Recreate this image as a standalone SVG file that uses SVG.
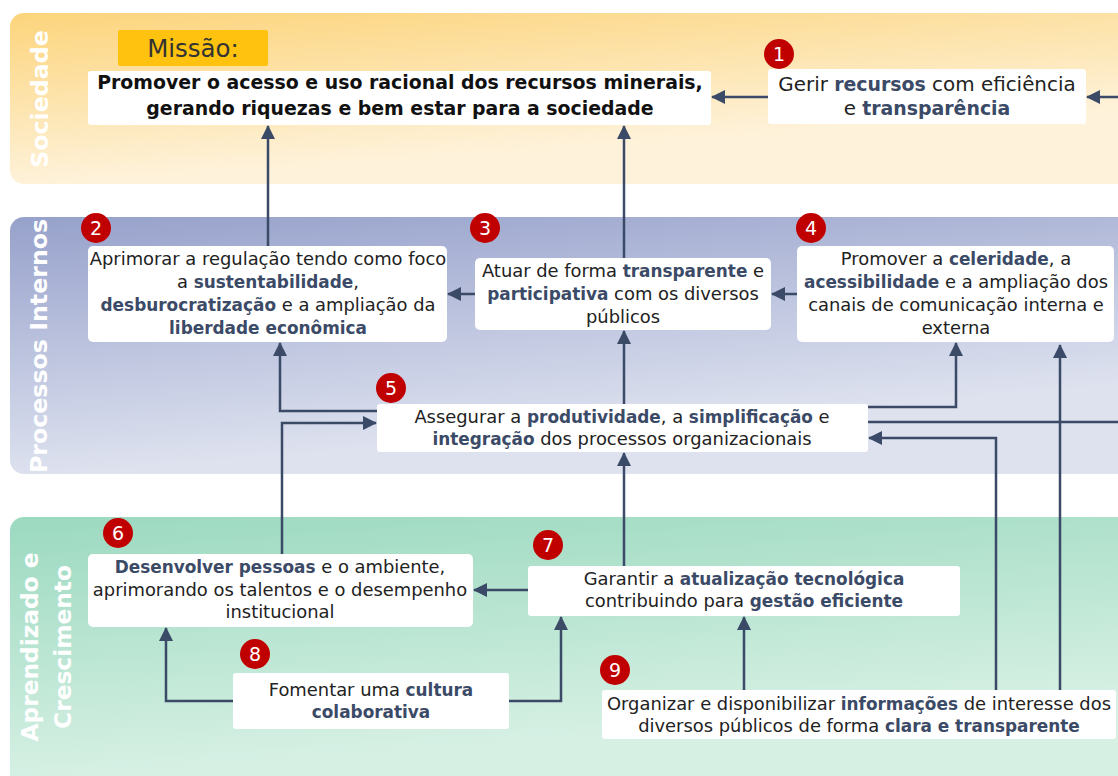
<svg xmlns="http://www.w3.org/2000/svg" width="1118" height="776" viewBox="0 0 1118 776">
<defs>
<linearGradient id="gSoc" gradientUnits="userSpaceOnUse" x1="0" y1="13" x2="12" y2="186">
<stop offset="0" stop-color="#FCD47B"/><stop offset="1" stop-color="#FEF2DA"/>
</linearGradient>
<linearGradient id="gProc" gradientUnits="userSpaceOnUse" x1="0" y1="217" x2="22" y2="478">
<stop offset="0" stop-color="#96A1CB"/><stop offset="1" stop-color="#DEE2EF"/>
</linearGradient>
<linearGradient id="gApr" gradientUnits="userSpaceOnUse" x1="0" y1="517" x2="20" y2="780">
<stop offset="0" stop-color="#9BD9C0"/><stop offset="1" stop-color="#D6F0E4"/>
</linearGradient>
<marker id="ah" markerUnits="userSpaceOnUse" markerWidth="14" markerHeight="14" viewBox="0 0 14 14" refX="13" refY="7" orient="auto">
<path d="M0,0 L14,7 L0,14 z" fill="#3B4A66"/>
</marker>
<style>
text{font-family:"DejaVu Sans","Open Sans","Noto Sans",sans-serif;}
.band{font-size:23.7px;font-weight:700;fill:#FFFFFF;text-anchor:middle;}
.t{font-size:17.9px;fill:#222222;text-anchor:middle;}
.k{font-weight:700;fill:#3B4A66;font-size:16.9px;}
.t1{font-size:19.9px;}
.t1 .k{font-size:18.9px;}
.m{font-size:18.9px;font-weight:700;fill:#111111;text-anchor:middle;}
.box{fill:#FFFFFF;}
.bd{fill:#C00000;}
.bn{font-size:19px;fill:#FFFFFF;text-anchor:middle;}
.c{fill:none;stroke:#3B4A66;stroke-width:2.5;}
.a{marker-end:url(#ah);}
</style>
</defs>

<g id="bands">
<rect x="10" y="13" width="1130" height="171" rx="14" fill="url(#gSoc)"/>
<rect x="10" y="217" width="1130" height="257" rx="14" fill="url(#gProc)"/>
<rect x="10" y="517" width="1130" height="290" rx="14" fill="url(#gApr)"/>
<text class="band" transform="translate(48,99) rotate(-90)">Sociedade</text>
<text class="band" transform="translate(47,346) rotate(-90)">Processos Internos</text>
<text class="band" style="font-size:23.3px" transform="translate(38,647) rotate(-90)"><tspan x="0" y="0">Aprendizado e</tspan><tspan x="0" y="33">Crescimento</tspan></text>
</g>

<g id="connectors">
<path class="c a" d="M768,97 H712"/>
<path class="c a" d="M1120,97 H1087"/>
<path class="c a" d="M268,246 V126"/>
<path class="c a" d="M624,258 V126"/>
<path class="c a" d="M475,294 H448"/>
<path class="c a" d="M797,294 H772"/>
<path class="c a" d="M377,411 H280 V343"/>
<path class="c a" d="M282,554 V423 H376"/>
<path class="c a" d="M624,404 V331"/>
<path class="c a" d="M868,407 H956 V343"/>
<path class="c" d="M868,422 H1120"/>
<path class="c a" d="M1060,690 V345"/>
<path class="c a" d="M996,690 V438 H869"/>
<path class="c a" d="M624,566 V453"/>
<path class="c a" d="M528,590 H474"/>
<path class="c a" d="M233,701 H166 V628"/>
<path class="c a" d="M509,701 H561 V617"/>
<path class="c a" d="M744,690 V617"/>
</g>

<g id="missao-label">
<rect x="118" y="30" width="150" height="36" rx="2" fill="#FFC20E"/>
<text x="193" y="57" style="font-size:24.5px;fill:#333333;text-anchor:middle">Missão:</text>
</g>

<g id="missao">
<rect class="box" x="88" y="71" width="623" height="54" rx="3"/>
<text class="m"><tspan x="400" y="89">Promover o acesso e uso racional dos recursos minerais,</tspan><tspan x="400" y="115">gerando riquezas e bem estar para a sociedade</tspan></text>
</g>

<g id="node1">
<rect class="box" x="768" y="69" width="318" height="55" rx="3"/>
<text class="t t1"><tspan x="927" y="91">Gerir <tspan class="k">recursos</tspan> com eficiência</tspan><tspan x="927" y="115">e <tspan class="k">transparência</tspan></tspan></text>
<circle class="bd" cx="779" cy="54" r="15"/>
<text class="bn" x="779" y="61">1</text>
</g>

<g id="node2">
<rect class="box" x="88" y="246" width="359" height="96" rx="5"/>
<text class="t"><tspan x="268" y="265">Aprimorar a regulação tendo como foco</tspan><tspan x="268" y="288">a <tspan class="k">sustentabilidade</tspan>,</tspan><tspan x="268" y="311"><tspan class="k">desburocratização</tspan> e a ampliação da</tspan><tspan x="268" y="334"><tspan class="k">liberdade econômica</tspan></tspan></text>
<circle class="bd" cx="96" cy="228" r="15"/>
<text class="bn" x="96" y="235">2</text>
</g>

<g id="node3">
<rect class="box" x="475" y="258" width="296" height="72" rx="5"/>
<text class="t"><tspan x="623" y="277">Atuar de forma <tspan class="k">transparente</tspan> e</tspan><tspan x="623" y="300"><tspan class="k">participativa</tspan> com os diversos</tspan><tspan x="623" y="323">públicos</tspan></text>
<circle class="bd" cx="485" cy="228" r="15"/>
<text class="bn" x="485" y="235">3</text>
</g>

<g id="node4">
<rect class="box" x="797" y="246" width="317" height="96" rx="5"/>
<text class="t"><tspan x="956" y="265">Promover a <tspan class="k">celeridade</tspan>, a</tspan><tspan x="956" y="288"><tspan class="k">acessibilidade</tspan> e a ampliação dos</tspan><tspan x="956" y="311">canais de comunicação interna e</tspan><tspan x="956" y="334">externa</tspan></text>
<circle class="bd" cx="811" cy="228" r="15"/>
<text class="bn" x="811" y="235">4</text>
</g>

<g id="node5">
<rect class="box" x="377" y="404" width="491" height="48" rx="3"/>
<text class="t"><tspan x="622" y="423">Assegurar a <tspan class="k">produtividade</tspan>, a <tspan class="k">simplificação</tspan> e</tspan><tspan x="622" y="445"><tspan class="k">integração</tspan> dos processos organizacionais</tspan></text>
<circle class="bd" cx="391" cy="388" r="15"/>
<text class="bn" x="391" y="395">5</text>
</g>

<g id="node6">
<rect class="box" x="88" y="554" width="385" height="73" rx="5"/>
<text class="t"><tspan x="280" y="573"><tspan class="k">Desenvolver pessoas</tspan> e o ambiente,</tspan><tspan x="280" y="596">aprimorando os talentos e o desempenho</tspan><tspan x="280" y="618">institucional</tspan></text>
<circle class="bd" cx="118" cy="533" r="15"/>
<text class="bn" x="118" y="540">6</text>
</g>

<g id="node7">
<rect class="box" x="528" y="566" width="432" height="50" rx="3"/>
<text class="t"><tspan x="744" y="585">Garantir a <tspan class="k">atualização tecnológica</tspan></tspan><tspan x="744" y="607">contribuindo para <tspan class="k">gestão eficiente</tspan></tspan></text>
<circle class="bd" cx="548" cy="545" r="15"/>
<text class="bn" x="548" y="552">7</text>
</g>

<g id="node8">
<rect class="box" x="233" y="673" width="276" height="56" rx="3"/>
<text class="t"><tspan x="371" y="696">Fomentar uma <tspan class="k">cultura</tspan></tspan><tspan x="371" y="718"><tspan class="k">colaborativa</tspan></tspan></text>
<circle class="bd" cx="255" cy="654" r="15"/>
<text class="bn" x="255" y="661">8</text>
</g>

<g id="node9">
<rect class="box" x="602" y="690" width="514" height="49" rx="3"/>
<text class="t"><tspan x="859" y="710">Organizar e disponibilizar <tspan class="k">informações</tspan> de interesse dos</tspan><tspan x="859" y="732">diversos públicos de forma <tspan class="k">clara e transparente</tspan></tspan></text>
<circle class="bd" cx="615" cy="670" r="15"/>
<text class="bn" x="615" y="677">9</text>
</g>
</svg>
